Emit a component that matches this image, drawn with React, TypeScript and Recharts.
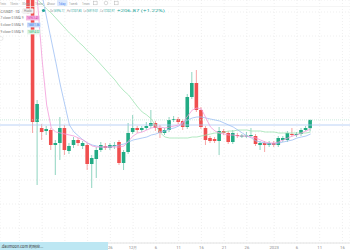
// BTC/USDT 1D candles with MA lines — TradingView-like screenshot
import React from 'react';
import {
  ComposedChart,
  Bar,
  Line,
  XAxis,
  YAxis,
  CartesianGrid,
  ReferenceLine,
} from 'recharts';

// OHLC by day, Nov 8 2022 .. Jan 9 2023
const opens = [
  20950, 20450, 17150, 17000, 16925, 16950, 16575, 16625, 17000, 16425,
  16575, 16700, 16550, 16575, 16100, 16225, 16450, 16550, 16500, 16550,
  16650, 16125, 16400, 16900, 17000, 16950, 17000, 17050, 17125, 17000,
  16875, 16950, 17200, 17225, 17175, 17025, 17775, 18125, 17450, 17000,
  16750, 16725, 16675, 16925, 16875, 16650, 16825, 16800, 16800, 16800,
  16800, 16575, 16625, 16575, 16625, 16575, 16700, 16700, 16850, 16825,
  16850, 16950, 16996.11,
];
const highs = [
  21075, 20575, 17700, 17100, 17050, 17000, 16700, 17275, 17075, 16625,
  16775, 16750, 16675, 16625, 16325, 16525, 16650, 16625, 16625, 16650,
  16700, 16450, 17125, 17325, 17050, 17050, 17150, 17450, 17175, 17075,
  17000, 17275, 17300, 17275, 17225, 17850, 18400, 18450, 17525, 17050,
  16800, 16775, 17025, 16975, 16925, 16950, 16875, 16850, 16900, 17000,
  16850, 16675, 16675, 16675, 16675, 16800, 16800, 16925, 17000, 16900,
  17000, 17050, 17207.8,
];
const lows = [
  19850, 16875, 15575, 16700, 16825, 16450, 15825, 16200, 16325, 16350,
  16500, 16550, 16475, 15950, 15500, 15750, 16400, 16450, 16450, 16475,
  16075, 15950, 16350, 16850, 16875, 16900, 16950, 17000, 16925, 16750,
  16825, 16900, 17150, 17100, 16950, 16975, 17725, 17400, 16975, 16575,
  16625, 16625, 16325, 16825, 16600, 16600, 16750, 16750, 16750, 16775,
  16550, 16450, 16400, 16525, 16525, 16525, 16650, 16650, 16775, 16775,
  16800, 16925, 16919.01,
];
const closes = [
  19900, 17150, 17600, 16900, 16975, 16575, 16625, 17000, 16450, 16550,
  16700, 16625, 16625, 16100, 16250, 16450, 16575, 16500, 16575, 16575,
  16125, 16400, 16875, 17000, 16950, 17000, 17050, 17125, 17000, 16875,
  16950, 17200, 17225, 17150, 17025, 17775, 18125, 17450, 17025, 16700,
  16675, 16675, 16925, 16875, 16650, 16875, 16800, 16810, 16812, 16825,
  16600, 16625, 16575, 16625, 16575, 16750, 16750, 16875, 16825, 16850,
  16950, 17000, 17202.97,
];

// moving averages
const ma7 = [
  null, 21700, 20125, 18700, 17575, 17000, 16900, 16875, 16850, 16825,
  16800, 16750, 16700, 16625, 16550, 16525, 16525, 16525, 16525, 16525,
  16525, 16550, 16675, 16800, 16875, 16900, 16950, 17000, 17025, 17025,
  17000, 17025, 17050, 17075, 17150, 17300, 17450, 17500, 17475, 17250,
  17025, 16925, 16875, 16850, 16825, 16825, 16800, 16800, 16800, 16775,
  16750, 16700, 16650, 16625, 16625, 16650, 16700, 16750, 16800, 16825,
  16875, 16925, 16975,
];
const ma25 = [
  null, null, 20900, 20325, 19750, 19200, 18650, 18075, 17575, 17075,
  16900, 16800, 16700, 16625, 16575, 16550, 16525, 16525, 16525, 16550,
  16575, 16600, 16650, 16700, 16725, 16750, 16775, 16825, 16850, 16900,
  16925, 16975, 17000, 17050, 17125, 17200, 17250, 17275, 17275, 17250,
  17225, 17200, 17175, 17125, 17075, 17025, 16950, 16875, 16800, 16750,
  16675, 16650, 16625, 16600, 16600, 16625, 16650, 16675, 16700, 16750,
  16775, 16800, 16850,
];
const ma99 = [
  null, null, 20200, 20100, 19975, 19875, 19750, 19625, 19500, 19375,
  19275, 19150, 19050, 18925, 18825, 18700, 18575, 18450, 18325, 18200,
  18050, 17925, 17825, 17675, 17525, 17400, 17325, 17225, 17050, 16875,
  16775, 16750, 16750, 16750, 16750, 16750, 16775, 16775, 16800, 16825,
  16850, 16875, 16875, 16900, 16925, 16925, 16950, 16950, 16950, 16925,
  16925, 16925, 16900, 16900, 16900, 16875, 16875, 16875, 16875, 16875,
  16875, 16875, 16900,
];

// x axis: day index (0 = Nov 8); first labels sit under the status bar
const tickIdx = [-2, 3, 8, 13, 18, 23, 28, 33, 38, 43, 48, 54, 59, 64, 69];
const tickLabels = ['', '', '', '', '26', '12月', '6', '11', '16', '21', '26', '2023', '6', '11', '16'];
const yTicks = [
  14500, 14800, 15100, 15400, 15700, 16000, 16300, 16600, 16900, 17200,
  17500, 17800, 18100, 18400, 18700, 19000, 19300, 19600, 19900,
];

const hLine = 17075;
const lastClose = 17202.97;

const GREEN = '#22ab84';
const RED = '#f04f4f';
const FONT = 'Roboto, "Liberation Sans", Arial, sans-serif';

const data = opens.map(function (o, i) {
  return {
    i,
    o,
    h: highs[i],
    l: lows[i],
    c: closes[i],
    ma7: ma7[i],
    ma25: ma25[i],
    ma99: ma99[i],
  };
});

// свеча: тело + фитиль из диапазона [low, high]
function Candle(props: any) {
  const { x, y, width, height, payload } = props;
  if (height == null || !payload) return null;
  const { o, h, l, c } = payload;
  const top = Math.min(y, y + height);
  const hgt = Math.abs(height);
  const k = hgt / (h - l);
  const yo = top + (h - o) * k;
  const yc = top + (h - c) * k;
  const col = c >= o ? GREEN : RED;
  const cx = x + width / 2;
  const bt = Math.min(yo, yc);
  const bh = Math.max(Math.abs(yc - yo), 1);
  return (
    <g>
      <line x1={cx} x2={cx} y1={top} y2={top + hgt} stroke={col} strokeOpacity={0.5} strokeWidth={1} />
      <rect x={x} y={bt} width={width} height={bh} fill={col} />
    </g>
  );
}

function XTick({ x, payload }: any) {
  const n = tickIdx.indexOf(payload.value);
  const label = n >= 0 ? tickLabels[n] : '';
  if (!label) return null;
  return (
    <text x={x} y={249} textAnchor="middle" fontSize={4.2} fill="#888" fontFamily={FONT}>
      {label}
    </text>
  );
}

const toolbar: [string, number, number][] = [
  ['1min', 0, 6], ['15min', 10, 8], ['30min', 22, 8], ['1hour', 35, 8],
  ['4hour', 47, 8], ['1day', 58.5, 7], ['1week', 69, 8.5], ['1mon', 82, 7.5],
];

const ohlc: [string, string, number][] = [
  ['O=', '16996.11', 50],
  ['H=', '17207.80', 67],
  ['L=', '16919.01', 83.5],
  ['C=', '17202.97', 100],
];

function Overlay() {
  return (
    <svg
      width={350}
      height={250}
      style={{ position: 'absolute', left: 0, top: 0, pointerEvents: 'none' }}
      fontFamily={FONT}
    >
      {/* toolbar */}
      <rect x={57} y={0} width={10.5} height={6} rx={1} fill="#dce9fd" />
      {toolbar.map(function ([t, x, w]) {
        return (
          <text
            key={t}
            x={x}
            y={4.6}
            fontSize={3.5}
            textLength={w}
            lengthAdjust="spacingAndGlyphs"
            fill={t === '1day' ? '#3b7cf0' : '#9a9a9a'}
          >
            {t}
          </text>
        );
      })}
      <rect x={93.5} y={1.2} width={3.6} height={3.6} fill="none" stroke="#b5b5b5" strokeWidth={0.5} />
      <circle cx={106} cy={3} r={1.8} fill="none" stroke="#b5b5b5" strokeWidth={0.5} />
      <rect x={114.5} y={1.2} width={3.6} height={3.6} fill="none" stroke="#b5b5b5" strokeWidth={0.5} />
      <line x1={0} x2={350} y1={6.5} y2={6.5} stroke="#efefef" strokeWidth={0.6} />

      {/* symbol row */}
      <text x={0.5} y={12.6} fontSize={4} fill="#555" textLength={19} lengthAdjust="spacingAndGlyphs">
        C/USDT · 1D
      </text>
      <rect x={22.5} y={8.6} width={11} height={5} rx={1} fill="#f2f2f2" stroke="#ddd" strokeWidth={0.3} />
      <text x={24} y={12.3} fontSize={3.3} fill="#888" textLength={8} lengthAdjust="spacingAndGlyphs">
        Huobi
      </text>
      <circle cx={43.5} cy={10.5} r={1.6} fill="#26a69a" />
      {ohlc.map(function ([k, v, x]) {
        return (
          <text key={k} x={x} y={12.3} fontSize={3.4} textLength={14.5} lengthAdjust="spacingAndGlyphs">
            <tspan fill="#9a9a9a">{k}</tspan>
            <tspan fill="#26a69a">{v}</tspan>
          </text>
        );
      })}
      <text x={117} y={12.3} fontSize={3.4} fill="#26a69a" textLength={48} lengthAdjust="spacingAndGlyphs">
        +206.87 (+1.22%)
      </text>

      {/* MA legend rows */}
      <text x={0.5} y={19.2} fontSize={3.5} fill="#777" textLength={23} lengthAdjust="spacingAndGlyphs">
        7 close 0 SMA 9
      </text>
      <rect x={26} y={15.6} width={13.5} height={4.8} fill="#f6b9e4" />
      <text x={27} y={19.2} fontSize={3.4} fill="#d0279f" textLength={11.5} lengthAdjust="spacingAndGlyphs">
        16963.43
      </text>
      <text x={0.5} y={26.2} fontSize={3.5} fill="#777" textLength={23} lengthAdjust="spacingAndGlyphs">
        5 close 0 SMA 9
      </text>
      <rect x={27} y={22.6} width={13.5} height={4.8} fill="#c9dcfb" />
      <text x={28} y={26.2} fontSize={3.4} fill="#2f6fe0" textLength={11.5} lengthAdjust="spacingAndGlyphs">
        16831.56
      </text>
      <text x={0.5} y={33.2} fontSize={3.5} fill="#777" textLength={23} lengthAdjust="spacingAndGlyphs">
        9 close 0 SMA 9
      </text>
      <rect x={27} y={29.6} width={13.5} height={4.8} fill="#e3f6ea" />
      <text x={28} y={33.2} fontSize={3.4} fill="#2bb673" textLength={11.5} lengthAdjust="spacingAndGlyphs">
        16894.02
      </text>
      <circle cx={1} cy={38.5} r={2} fill="#fff" stroke="#ccc" strokeWidth={0.4} />

      {/* browser status bar */}
      <rect x={0} y={242} width={108} height={8} fill="#bde7f3" />
      <text x={1} y={248} fontSize={3.8} fill="#333" fontFamily={'"Noto Sans CJK SC", ' + FONT}>
        .daumoon.com 的响应...
      </text>
    </svg>
  );
}

export default function App() {
  return (
    <div
      style={{
        position: 'absolute',
        left: 0,
        top: 0,
        width: 350,
        height: 250,
        background: '#fff',
        overflow: 'hidden',
      }}
    >
      <ComposedChart
        width={350}
        height={250}
        data={data}
        margin={{ top: 0, right: 0, left: 0, bottom: 0 }}
      >
        <CartesianGrid stroke="#e4e4e4" strokeDasharray="1 2" strokeWidth={0.6} />
        <XAxis
          type="number"
          dataKey="i"
          domain={[-6.26, 70.66]}
          allowDataOverflow
          ticks={tickIdx}
          interval={0}
          tick={<XTick />}
          tickLine={false}
          axisLine={{ stroke: '#e2e2e2' }}
          height={7}
        />
        <YAxis hide domain={[14125, 20200]} allowDataOverflow ticks={yTicks} />
        <ReferenceLine y={hLine} stroke="#a9c6f4" strokeWidth={0.8} />
        <ReferenceLine y={lastClose} stroke="#bfe6d6" strokeDasharray="1 1" strokeWidth={0.8} />
        <Line type="linear" dataKey="ma99" stroke="#9fe3b3" strokeWidth={0.8} dot={false} isAnimationActive={false} />
        <Line type="linear" dataKey="ma25" stroke="#9dbff4" strokeWidth={0.8} dot={false} isAnimationActive={false} />
        <Line type="linear" dataKey="ma7" stroke="#f39ad9" strokeWidth={0.8} dot={false} isAnimationActive={false} />
        <Bar
          dataKey={function (d: any) {
            return [d.l, d.h];
          }}
          barSize={3.6}
          shape={<Candle />}
          isAnimationActive={false}
        />
      </ComposedChart>
      <Overlay />
    </div>
  );
}
